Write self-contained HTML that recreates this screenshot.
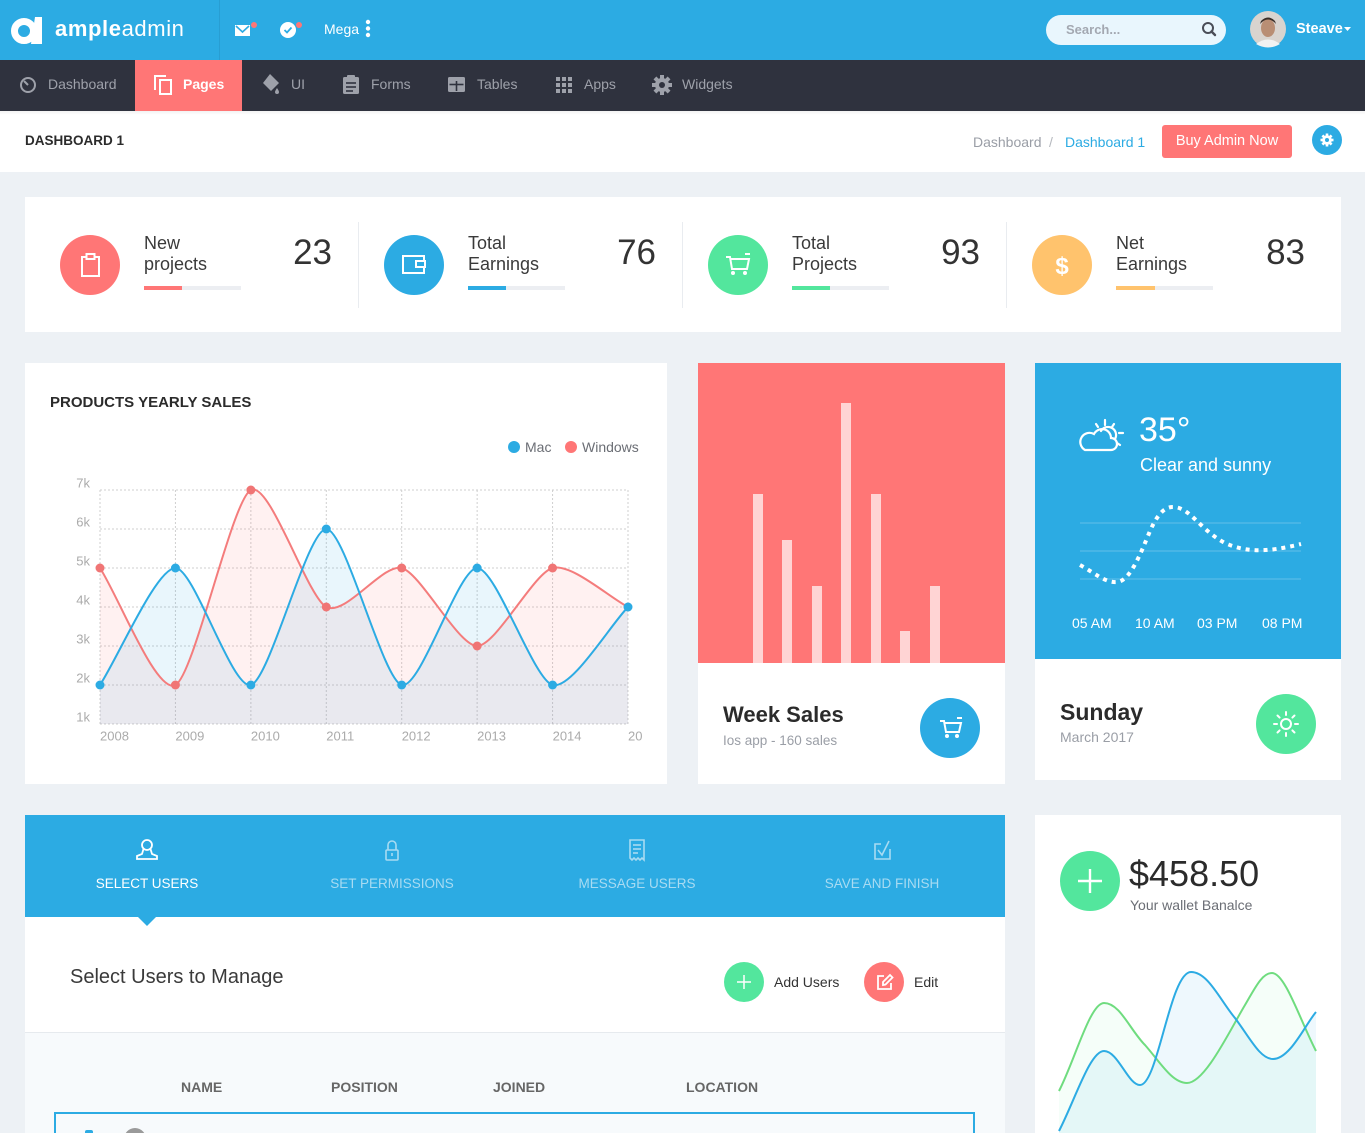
<!DOCTYPE html>
<html style="height:1133px;overflow:hidden"><head><meta charset="utf-8">
<style>
*{margin:0;padding:0;box-sizing:border-box}
html,body{width:1365px;height:1133px;overflow:hidden}
body{background:#edf1f5;font-family:"Liberation Sans",sans-serif;position:relative;color:#333}
.a{position:absolute;white-space:nowrap}
.nav{color:#9ea1aa;font-size:14px;line-height:14px;top:77px}
.lbl{font-size:18px;line-height:21.5px;color:#3a3a3a;top:232.8px}
.num{font-size:35px;line-height:35px;color:#333;top:234.5px;text-align:right;width:100px}
.pb{height:4px;width:97px;background:#eceef2;top:286px}
.circ{border-radius:50%}
.tab{font-size:13.5px;line-height:13.5px;top:877px;text-align:center;width:200px}
.th{font-size:14px;line-height:14px;top:1080px;font-weight:bold;color:#666}
</style></head><body>
<div class="a" style="left:0;top:0;width:1365px;height:1133px;overflow:hidden">

<!-- top bar -->
<div class="a" style="left:0;top:0;width:1365px;height:60px;background:#2cabe3"></div>
<div class="a" style="left:219px;top:0;width:1px;height:60px;background:rgba(0,0,0,0.07)"></div>
<svg class="a" style="left:0;top:0" width="60" height="60">
  <circle cx="24" cy="31" r="9.5" fill="none" stroke="#fff" stroke-width="7"/>
  <polygon points="35,17 42,17 42,44 31,44" fill="#fff"/>
</svg>
<div class="a" style="left:55px;top:18px;font-size:22px;line-height:22px;color:#fff;letter-spacing:0.6px"><b>ample</b>admin</div>
<svg class="a" style="left:230px;top:18px" width="80" height="24">
  <rect x="5" y="7" width="15" height="11" fill="#fff"/>
  <polyline points="6,8 12.5,14 19,8" fill="none" stroke="#2cabe3" stroke-width="1.6"/>
  <circle cx="24" cy="7" r="3" fill="#ff7676"/>
  <circle cx="58" cy="12" r="8" fill="#fff"/>
  <polyline points="54.5,12 57,14.5 61.5,9.5" fill="none" stroke="#2cabe3" stroke-width="1.8"/>
  <circle cx="69" cy="7" r="3" fill="#ff7676"/>
</svg>
<div class="a" style="left:324px;top:22px;font-size:14px;line-height:14px;color:#fff">Mega</div>
<svg class="a" style="left:364px;top:19px" width="8" height="20"><circle cx="4" cy="3" r="2.2" fill="#fff"/><circle cx="4" cy="9.5" r="2.2" fill="#fff"/><circle cx="4" cy="16" r="2.2" fill="#fff"/></svg>

<div class="a" style="left:1046px;top:15px;width:180px;height:30px;border-radius:15px;background:#e9f6fd"></div>
<div class="a" style="left:1066px;top:22.5px;font-size:13px;line-height:13px;color:#a3a8b1;font-weight:bold">Search...</div>
<svg class="a" style="left:1200px;top:20px" width="20" height="20"><circle cx="8" cy="8" r="5" fill="none" stroke="#4a4d57" stroke-width="2"/><line x1="11.5" y1="11.5" x2="15" y2="15" stroke="#4a4d57" stroke-width="2.4" stroke-linecap="round"/></svg>
<svg class="a" style="left:1249px;top:11px" width="38" height="38">
  <circle cx="19" cy="18" r="18" fill="#d9d4cf"/>
  <ellipse cx="19" cy="17" rx="7" ry="9" fill="#b98e74"/>
  <path d="M11 13 Q19 4 27 13 L26 10 Q19 3 12 10Z" fill="#3a2e28"/>
  <path d="M7 33 Q19 24 31 33 Q19 40 7 33Z" fill="#f2f2f2"/>
</svg>
<div class="a" style="left:1296px;top:22px;font-size:14.5px;line-height:14.5px;color:#fff;font-weight:bold">Steave</div>
<svg class="a" style="left:1343px;top:26px" width="10" height="6"><polygon points="1,1 8,1 4.5,5" fill="#fff"/></svg>

<!-- nav bar -->
<div class="a" style="left:0;top:60px;width:1365px;height:51px;background:#2f323e"></div>
<div class="a" style="left:135px;top:60px;width:107px;height:51px;background:#ff7676"></div>
<svg class="a" style="left:0;top:60px" width="760" height="51">
  <g fill="none" stroke="#9ea1aa" stroke-width="2">
    <circle cx="28" cy="25" r="7"/>
    <line x1="28" y1="25" x2="24" y2="21"/>
  </g>
  <g fill="none" stroke="#fff" stroke-width="2">
    <polyline points="166,16 155,16 155,30"/>
    <rect x="160" y="20" width="11" height="14"/>
  </g>
  <g fill="#9ea1aa">
    <polygon points="270,14 279,23 271,31 263,23"/>
    <path d="M277 28 Q279 31 279 32 A2 2 0 0 1 275 32 Q275 31 277 28Z"/>
    <rect x="343" y="17" width="16" height="17" rx="1.5"/>
    <rect x="347" y="15" width="8" height="4" rx="1"/>
    <rect x="448" y="17" width="17" height="15" rx="1.5"/>
  </g>
  <g stroke="#2f323e" stroke-width="1.6">
    <line x1="346" y1="23" x2="356" y2="23"/><line x1="346" y1="27" x2="356" y2="27"/><line x1="346" y1="31" x2="353" y2="31"/>
    <line x1="449.5" y1="24.5" x2="463.5" y2="24.5"/><line x1="456.5" y1="20" x2="456.5" y2="31"/>
  </g>
  <rect x="450" y="19" width="13" height="2" fill="#9ea1aa"/>
  <g fill="#9ea1aa">
    <rect x="556" y="17" width="4" height="4"/><rect x="562" y="17" width="4" height="4"/><rect x="568" y="17" width="4" height="4"/>
    <rect x="556" y="23" width="4" height="4"/><rect x="562" y="23" width="4" height="4"/><rect x="568" y="23" width="4" height="4"/>
    <rect x="556" y="29" width="4" height="4"/><rect x="562" y="29" width="4" height="4"/><rect x="568" y="29" width="4" height="4"/>
  </g>
  <g transform="translate(662,25)">
    <circle r="7" fill="#9ea1aa"/>
    <g fill="#9ea1aa">
      <rect x="-2" y="-10" width="4" height="20"/>
      <rect x="-2" y="-10" width="4" height="20" transform="rotate(45)"/>
      <rect x="-2" y="-10" width="4" height="20" transform="rotate(90)"/>
      <rect x="-2" y="-10" width="4" height="20" transform="rotate(135)"/>
    </g>
    <circle r="3" fill="#2f323e"/>
  </g>
</svg>
<div class="a nav" style="left:48px">Dashboard</div>
<div class="a nav" style="left:183px;color:#fff;font-weight:bold">Pages</div>
<div class="a nav" style="left:291px">UI</div>
<div class="a nav" style="left:371px">Forms</div>
<div class="a nav" style="left:477px">Tables</div>
<div class="a nav" style="left:584px">Apps</div>
<div class="a nav" style="left:682px">Widgets</div>

<!-- breadcrumb bar -->
<div class="a" style="left:0;top:111px;width:1365px;height:61px;background:#fff"></div>
<div class="a" style="left:0;top:111px;width:1365px;height:4px;background:linear-gradient(rgba(0,0,0,0.05),rgba(0,0,0,0))"></div>
<div class="a" style="left:25px;top:134px;font-size:13.5px;line-height:14px;font-weight:bold;color:#2b2b2b">DASHBOARD 1</div>
<div class="a" style="left:973px;top:135px;font-size:14px;line-height:14px;color:#9a9ea6">Dashboard</div>
<div class="a" style="left:1049px;top:135px;font-size:14px;line-height:14px;color:#b5b8be">/</div>
<div class="a" style="left:1065px;top:135px;font-size:14px;line-height:14px;color:#2cabe3">Dashboard 1</div>
<div class="a" style="left:1162px;top:125px;width:130px;height:33px;border-radius:3px;background:#ff7676;color:#fff;font-size:14.5px;line-height:33px;text-align:center">Buy Admin Now</div>
<div class="a circ" style="left:1312px;top:125px;width:30px;height:30px;background:#2cabe3"></div>
<svg class="a" style="left:1312px;top:125px" width="30" height="30">
  <g transform="translate(15,15)" fill="#fff">
    <rect x="-1.3" y="-6.5" width="2.6" height="13"/>
    <rect x="-1.3" y="-6.5" width="2.6" height="13" transform="rotate(45)"/>
    <rect x="-1.3" y="-6.5" width="2.6" height="13" transform="rotate(90)"/>
    <rect x="-1.3" y="-6.5" width="2.6" height="13" transform="rotate(135)"/>
    <circle r="4.8"/>
  </g>
  <circle cx="15" cy="15" r="2" fill="#2cabe3"/>
</svg>

<!-- stats card -->
<div class="a" style="left:25px;top:197px;width:1316px;height:135px;background:#fff"></div>
<div class="a" style="left:358px;top:222px;width:1px;height:86px;background:#e9ecf0"></div>
<div class="a" style="left:682px;top:222px;width:1px;height:86px;background:#e9ecf0"></div>
<div class="a" style="left:1006px;top:222px;width:1px;height:86px;background:#e9ecf0"></div>

<div class="a circ" style="left:60px;top:235px;width:60px;height:60px;background:#ff7676"></div>
<div class="a circ" style="left:384px;top:235px;width:60px;height:60px;background:#2cabe3"></div>
<div class="a circ" style="left:708px;top:235px;width:60px;height:60px;background:#53e69d"></div>
<div class="a circ" style="left:1032px;top:235px;width:60px;height:60px;background:#ffc36d"></div>
<svg class="a" style="left:0;top:230px" width="1100" height="70">
  <g fill="none" stroke="#fff" stroke-width="2">
    <rect x="82" y="27" width="17" height="19"/>
    <rect x="86.5" y="24" width="8" height="5" fill="#ff7676"/>
    <rect x="403" y="26" width="21" height="17"/>
    <rect x="416" y="31" width="9" height="6" fill="#2cabe3"/>
    <path d="M726 27 L730 27 L732 39 L747 39 L749 29 L731 29"/>
    <line x1="745" y1="24" x2="750" y2="24"/>
  </g>
  <circle cx="733" cy="43" r="2" fill="#fff"/><circle cx="745" cy="43" r="2" fill="#fff"/>
  <text x="1062" y="44" text-anchor="middle" font-family="Liberation Sans" font-weight="bold" font-size="24" fill="#fff">$</text>
</svg>

<div class="a lbl" style="left:144px">New<br>projects</div>
<div class="a lbl" style="left:468px">Total<br>Earnings</div>
<div class="a lbl" style="left:792px">Total<br>Projects</div>
<div class="a lbl" style="left:1116px">Net<br>Earnings</div>
<div class="a num" style="left:232px">23</div>
<div class="a num" style="left:556px">76</div>
<div class="a num" style="left:880px">93</div>
<div class="a num" style="left:1205px">83</div>
<div class="a pb" style="left:144px"><div style="width:38px;height:4px;background:#ff7676"></div></div>
<div class="a pb" style="left:468px"><div style="width:38px;height:4px;background:#2cabe3"></div></div>
<div class="a pb" style="left:792px"><div style="width:38px;height:4px;background:#53e69d"></div></div>
<div class="a pb" style="left:1116px"><div style="width:39px;height:4px;background:#ffc36d"></div></div>

<!-- yearly sales card -->
<div class="a" style="left:25px;top:363px;width:642px;height:421px;background:#fff"></div>
<div class="a" style="left:50px;top:394.5px;font-size:15px;line-height:15px;font-weight:bold;color:#2b2b2b">PRODUCTS YEARLY SALES</div>
<div class="a circ" style="left:508px;top:441px;width:12px;height:12px;background:#2cabe3"></div>
<div class="a" style="left:525px;top:440px;font-size:14px;line-height:14px;color:#6b6e75">Mac</div>
<div class="a circ" style="left:565px;top:441px;width:12px;height:12px;background:#ff7676"></div>
<div class="a" style="left:582px;top:440px;font-size:14px;line-height:14px;color:#6b6e75">Windows</div>

<svg class="a" style="left:0;top:0" width="1365" height="1133">
  <defs><clipPath id="cc"><rect x="0" y="0" width="643" height="1133"/></clipPath></defs>
  <g stroke="#cfcfcf" stroke-width="1" stroke-dasharray="2,2">
    <line x1="100" y1="490" x2="628" y2="490"/><line x1="100" y1="529" x2="628" y2="529"/>
    <line x1="100" y1="568" x2="628" y2="568"/><line x1="100" y1="607" x2="628" y2="607"/>
    <line x1="100" y1="646" x2="628" y2="646"/><line x1="100" y1="685" x2="628" y2="685"/>
    <line x1="100" y1="724" x2="628" y2="724"/>
    <line x1="100" y1="490" x2="100" y2="724"/><line x1="175.43" y1="490" x2="175.43" y2="724"/>
    <line x1="250.86" y1="490" x2="250.86" y2="724"/><line x1="326.29" y1="490" x2="326.29" y2="724"/>
    <line x1="401.71" y1="490" x2="401.71" y2="724"/><line x1="477.14" y1="490" x2="477.14" y2="724"/>
    <line x1="552.57" y1="490" x2="552.57" y2="724"/><line x1="628" y1="490" x2="628" y2="724"/>
  </g>
  <g font-family="Liberation Sans" font-size="13" fill="#ababab" text-anchor="end">
    <text x="90" y="487.6">7k</text><text x="90" y="526.6">6k</text><text x="90" y="565.6">5k</text>
    <text x="90" y="604.6">4k</text><text x="90" y="643.6">3k</text><text x="90" y="682.6">2k</text>
    <text x="90" y="721.6">1k</text>
  </g>
  <g font-family="Liberation Sans" font-size="13" fill="#ababab" clip-path="url(#cc)">
    <text x="100" y="740.6">2008</text><text x="175.4" y="740.6">2009</text><text x="250.9" y="740.6">2010</text>
    <text x="326.3" y="740.6">2011</text><text x="401.7" y="740.6">2012</text><text x="477.1" y="740.6">2013</text>
    <text x="552.6" y="740.6">2014</text><text x="628" y="740.6">2015</text>
  </g>
  <path d="M100,568 C118.86,597.25 156.57,694.75 175.43,685 C194.29,675.25 232,499.75 250.86,490 C269.71,480.25 307.43,597.25 326.29,607 C345.14,616.75 382.86,563.13 401.71,568 C420.57,572.88 458.29,646 477.14,646 C496,646 533.71,572.88 552.57,568 C571.43,563.13 609.14,597.25 628,607 L628,724 L100,724 Z" fill="rgba(255,118,118,0.1)"/>
  <path d="M100,685 C118.86,655.75 156.57,568 175.43,568 C194.29,568 232,689.88 250.86,685 C269.71,680.13 307.43,529 326.29,529 C345.14,529 382.86,680.13 401.71,685 C420.57,689.88 458.29,568 477.14,568 C496,568 533.71,680.13 552.57,685 C571.43,689.88 609.14,626.5 628,607 L628,724 L100,724 Z" fill="rgba(44,171,227,0.1)"/>
  <path d="M100,568 C118.86,597.25 156.57,694.75 175.43,685 C194.29,675.25 232,499.75 250.86,490 C269.71,480.25 307.43,597.25 326.29,607 C345.14,616.75 382.86,563.13 401.71,568 C420.57,572.88 458.29,646 477.14,646 C496,646 533.71,572.88 552.57,568 C571.43,563.13 609.14,597.25 628,607" fill="none" stroke="#f47c7c" stroke-width="2"/>
  <path d="M100,685 C118.86,655.75 156.57,568 175.43,568 C194.29,568 232,689.88 250.86,685 C269.71,680.13 307.43,529 326.29,529 C345.14,529 382.86,680.13 401.71,685 C420.57,689.88 458.29,568 477.14,568 C496,568 533.71,680.13 552.57,685 C571.43,689.88 609.14,626.5 628,607" fill="none" stroke="#2cabe3" stroke-width="2"/>
  <g fill="#f07575">
    <circle cx="100" cy="568" r="4.5"/><circle cx="175.43" cy="685" r="4.5"/><circle cx="250.86" cy="490" r="4.5"/>
    <circle cx="326.29" cy="607" r="4.5"/><circle cx="401.71" cy="568" r="4.5"/><circle cx="477.14" cy="646" r="4.5"/>
    <circle cx="552.57" cy="568" r="4.5"/>
  </g>
  <g fill="#2cabe3">
    <circle cx="100" cy="685" r="4.5"/><circle cx="175.43" cy="568" r="4.5"/><circle cx="250.86" cy="685" r="4.5"/>
    <circle cx="326.29" cy="529" r="4.5"/><circle cx="401.71" cy="685" r="4.5"/><circle cx="477.14" cy="568" r="4.5"/>
    <circle cx="552.57" cy="685" r="4.5"/><circle cx="628" cy="607" r="4.5"/>
  </g>
</svg>

<!-- week sales card -->
<div class="a" style="left:698px;top:363px;width:307px;height:300px;background:#ff7676"></div>
<div class="a" style="left:698px;top:663px;width:307px;height:121px;background:#fff"></div>
<div class="a" style="left:753px;top:494px;width:10px;height:169px;background:#ffd4d4"></div>
<div class="a" style="left:782px;top:540px;width:10px;height:123px;background:#ffd4d4"></div>
<div class="a" style="left:812px;top:586px;width:10px;height:77px;background:#ffd4d4"></div>
<div class="a" style="left:841px;top:403px;width:10px;height:260px;background:#ffd4d4"></div>
<div class="a" style="left:871px;top:494px;width:10px;height:169px;background:#ffd4d4"></div>
<div class="a" style="left:900px;top:631px;width:10px;height:32px;background:#ffd4d4"></div>
<div class="a" style="left:930px;top:586px;width:10px;height:77px;background:#ffd4d4"></div>
<div class="a" style="left:723px;top:704px;font-size:22px;line-height:22px;font-weight:bold;color:#2b2b2b">Week Sales</div>
<div class="a" style="left:723px;top:734px;font-size:13.5px;line-height:14px;color:#9a9ea6">Ios app - 160 sales</div>
<div class="a circ" style="left:920px;top:698px;width:60px;height:60px;background:#2cabe3"></div>
<svg class="a" style="left:920px;top:698px" width="60" height="60">
  <path d="M20 23 L24 23 L26 34 L39 34 L41 25 L25 25" fill="none" stroke="#fff" stroke-width="2"/>
  <line x1="37" y1="20" x2="42" y2="20" stroke="#fff" stroke-width="2"/>
  <circle cx="27" cy="38" r="2" fill="#fff"/><circle cx="37" cy="38" r="2" fill="#fff"/>
</svg>

<!-- weather card -->
<div class="a" style="left:1035px;top:363px;width:306px;height:296px;background:#2cabe3"></div>
<div class="a" style="left:1035px;top:659px;width:306px;height:121px;background:#fff"></div>
<svg class="a" style="left:1035px;top:363px" width="306" height="296">
  <g fill="none" stroke="#fff" stroke-width="2.2" stroke-linecap="round">
    <path d="M50 87 L76 87 A6 6 0 0 0 76 75 A9 9 0 0 0 59 71 A7 7 0 0 0 50 87Z"/>
    <path d="M66 68 A8 8 0 0 1 80 76"/>
    <line x1="70" y1="57" x2="70" y2="62"/>
    <line x1="79" y1="61" x2="77" y2="64"/>
    <line x1="84" y1="70" x2="88" y2="70"/>
    <line x1="82" y1="80" x2="85" y2="82"/>
    <line x1="61" y1="61" x2="63" y2="64"/>
  </g>
  <g stroke="rgba(255,255,255,0.13)" stroke-width="2">
    <line x1="45" y1="160" x2="266" y2="160"/><line x1="45" y1="188" x2="266" y2="188"/><line x1="45" y1="216" x2="266" y2="216"/>
  </g>
  <path transform="translate(-1035,-363)" d="M1080,565 C1095,573 1105,583 1117,582 C1130,581 1140,555 1150,531 C1158,513 1165,507 1173,507 C1190,507 1200,530 1225,543 C1245,552 1265,553 1301,544" fill="none" stroke="#fff" stroke-width="4" stroke-dasharray="4,5"/>
</svg>
<div class="a" style="left:1139px;top:413px;font-size:34px;line-height:34px;color:#fff">35°</div>
<div class="a" style="left:1140px;top:456px;font-size:18px;line-height:18px;color:#fff">Clear and sunny</div>
<div class="a" style="left:1072px;top:615.5px;font-size:14px;line-height:14px;color:#fff">05 AM</div>
<div class="a" style="left:1135px;top:615.5px;font-size:14px;line-height:14px;color:#fff">10 AM</div>
<div class="a" style="left:1197px;top:615.5px;font-size:14px;line-height:14px;color:#fff">03 PM</div>
<div class="a" style="left:1262px;top:615.5px;font-size:14px;line-height:14px;color:#fff">08 PM</div>
<div class="a" style="left:1060px;top:700.5px;font-size:23px;line-height:23px;font-weight:bold;color:#2b2b2b">Sunday</div>
<div class="a" style="left:1060px;top:730px;font-size:14px;line-height:14px;color:#9a9ea6">March 2017</div>
<div class="a circ" style="left:1256px;top:694px;width:60px;height:60px;background:#53e69d"></div>
<svg class="a" style="left:1256px;top:694px" width="60" height="60">
  <circle cx="30" cy="30" r="5" fill="none" stroke="#fff" stroke-width="2"/>
  <g stroke="#fff" stroke-width="2" stroke-linecap="round">
    <line x1="30" y1="18" x2="30" y2="21"/><line x1="30" y1="39" x2="30" y2="42"/>
    <line x1="18" y1="30" x2="21" y2="30"/><line x1="39" y1="30" x2="42" y2="30"/>
    <line x1="21.5" y1="21.5" x2="23.6" y2="23.6"/><line x1="36.4" y1="36.4" x2="38.5" y2="38.5"/>
    <line x1="21.5" y1="38.5" x2="23.6" y2="36.4"/><line x1="36.4" y1="23.6" x2="38.5" y2="21.5"/>
  </g>
</svg>

<!-- wizard card -->
<div class="a" style="left:25px;top:815px;width:980px;height:318px;background:#fff"></div>
<div class="a" style="left:25px;top:815px;width:980px;height:102px;background:#2cabe3"></div>
<div class="a" style="left:137px;top:916px;width:0;height:0;border-left:10px solid transparent;border-right:10px solid transparent;border-top:10px solid #2cabe3"></div>
<svg class="a" style="left:25px;top:830px" width="980" height="40">
  <g fill="none" stroke="#fff" stroke-width="1.8">
    <circle cx="122" cy="15" r="5"/>
    <path d="M118.5 19 L117 24 L112 26 L112 29 L132 29 L132 26 L127 24 L125.5 19"/>
  </g>
  <g fill="none" stroke="#a8dbf2" stroke-width="1.6">
    <rect x="361" y="20" width="12" height="10" rx="1"/>
    <path d="M363 20 L363 15 A4 4 0 0 1 371 15 L371 20"/>
    <line x1="367" y1="23" x2="367" y2="26"/>
    <path d="M605 10 L619 10 L619 30 L617 28 L615 30 L613 28 L611 30 L609 28 L607 30 L605 28Z"/>
    <line x1="608" y1="15" x2="616" y2="15"/><line x1="608" y1="19" x2="616" y2="19"/><line x1="608" y1="23" x2="613" y2="23"/>
    <path d="M856 14 L850 14 L850 29 L865 29 L865 19"/>
    <polyline points="853,20 857,25 864,11"/>
  </g>
</svg>
<div class="a tab" style="left:47px;color:#fff">SELECT USERS</div>
<div class="a tab" style="left:292px;color:#a8dbf2">SET PERMISSIONS</div>
<div class="a tab" style="left:537px;color:#a8dbf2">MESSAGE USERS</div>
<div class="a tab" style="left:782px;color:#a8dbf2">SAVE AND FINISH</div>

<div class="a" style="left:70px;top:967px;font-size:20px;line-height:20px;color:#3a3a3a">Select Users to Manage</div>
<div class="a circ" style="left:724px;top:962px;width:40px;height:40px;background:#53e69d"></div>
<svg class="a" style="left:724px;top:962px" width="40" height="40"><g stroke="#fff" stroke-width="1.5"><line x1="20" y1="13" x2="20" y2="27"/><line x1="13" y1="20" x2="27" y2="20"/></g></svg>
<div class="a" style="left:774px;top:975px;font-size:14px;line-height:14px;color:#333">Add Users</div>
<div class="a circ" style="left:864px;top:962px;width:40px;height:40px;background:#ff7676"></div>
<svg class="a" style="left:864px;top:962px" width="40" height="40"><g fill="none" stroke="#fff" stroke-width="1.8"><path d="M20 14 L14 14 L14 27 L27 27 L27 21"/><path d="M19 23 L19 20 L26 13 L28.5 15.5 L21.5 22.5Z"/></g></svg>
<div class="a" style="left:914px;top:975px;font-size:14px;line-height:14px;color:#333">Edit</div>

<div class="a" style="left:25px;top:1032px;width:980px;height:1px;background:#e6eaee"></div>
<div class="a" style="left:25px;top:1033px;width:980px;height:100px;background:#f7fafc"></div>
<div class="a th" style="left:181px">NAME</div>
<div class="a th" style="left:331px">POSITION</div>
<div class="a th" style="left:493px">JOINED</div>
<div class="a th" style="left:686px">LOCATION</div>
<div class="a" style="left:54px;top:1112px;width:921px;height:21px;border:2px solid #2cabe3;border-bottom:none;background:#f7fafc"></div>
<div class="a" style="left:85px;top:1130px;width:8px;height:3px;background:#2cabe3;border-radius:2px 2px 0 0"></div>
<div class="a" style="left:124px;top:1128px;width:22px;height:5px;overflow:hidden"><div class="circ" style="width:22px;height:22px;background:#9a9a9a"></div></div>

<!-- wallet card -->
<div class="a" style="left:1035px;top:815px;width:306px;height:318px;background:#fff"></div>
<div class="a circ" style="left:1060px;top:851px;width:60px;height:60px;background:#53e69d"></div>
<svg class="a" style="left:1060px;top:851px" width="60" height="60"><g stroke="#fff" stroke-width="2.4"><line x1="30" y1="18" x2="30" y2="42"/><line x1="18" y1="30" x2="42" y2="30"/></g></svg>
<div class="a" style="left:1129px;top:855.5px;font-size:36px;line-height:36px;color:#2b2b2b">$458.50</div>
<div class="a" style="left:1130px;top:898px;font-size:14px;line-height:14px;color:#6b6e75">Your wallet Banalce</div>
<svg class="a" style="left:0;top:0" width="1365" height="1133">
  <path d="M1059,1091 C1075,1060 1090,1003 1104,1003 C1120,1003 1130,1030 1145,1045 C1160,1062 1172,1083 1187,1083 C1205,1083 1230,1030 1245,1005 C1255,988 1262,973 1272,973 C1285,973 1300,1020 1316,1051 L1316,1133 L1059,1133Z" fill="rgba(83,230,157,0.06)"/>
  <path d="M1059,1131 C1075,1100 1090,1051 1104,1051 C1118,1051 1128,1085 1140,1085 C1158,1085 1170,972 1191,972 C1208,972 1220,1000 1235,1018 C1250,1038 1260,1059 1273,1059 C1290,1059 1305,1025 1316,1012 L1316,1133 L1059,1133Z" fill="rgba(44,171,227,0.08)"/>
  <path d="M1059,1091 C1075,1060 1090,1003 1104,1003 C1120,1003 1130,1030 1145,1045 C1160,1062 1172,1083 1187,1083 C1205,1083 1230,1030 1245,1005 C1255,988 1262,973 1272,973 C1285,973 1300,1020 1316,1051" fill="none" stroke="#6fdc7f" stroke-width="2"/>
  <path d="M1059,1131 C1075,1100 1090,1051 1104,1051 C1118,1051 1128,1085 1140,1085 C1158,1085 1170,972 1191,972 C1208,972 1220,1000 1235,1018 C1250,1038 1260,1059 1273,1059 C1290,1059 1305,1025 1316,1012" fill="none" stroke="#2cabe3" stroke-width="2"/>
</svg>

</div>
</body></html>
